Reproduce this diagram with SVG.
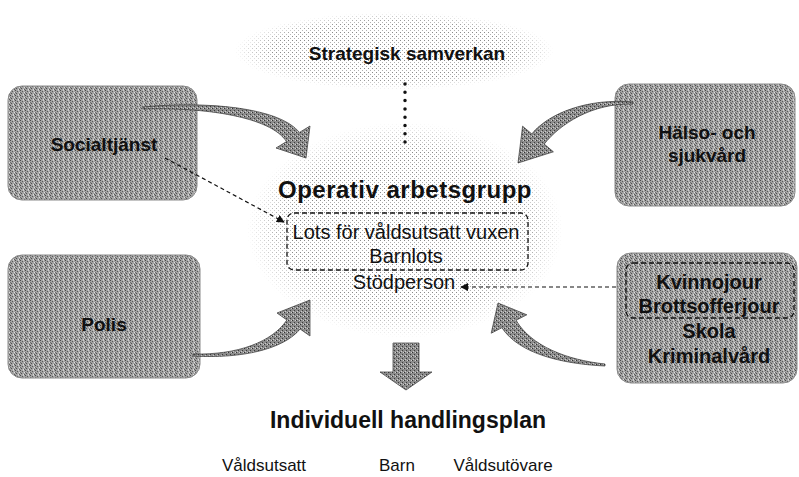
<svg xmlns="http://www.w3.org/2000/svg" width="799" height="477" viewBox="0 0 799 477">
<style>
  .bt{font-family:"Liberation Sans",Arial,sans-serif;font-weight:bold;fill:#111;text-anchor:middle}
  .rt{font-family:"Liberation Sans",Arial,sans-serif;fill:#111;text-anchor:middle}
  .box{fill:url(#grain);stroke:#8a8a8a;stroke-width:1}
  .arr{fill:url(#grainD);stroke:#333;stroke-width:0.7}
  .dash{fill:none;stroke:#111;stroke-width:1.3;stroke-dasharray:5 3}
  .dl{fill:none;stroke:#111;stroke-width:1.2;stroke-dasharray:4 3}
</style>
<defs>
  <pattern id="grain" width="5" height="5" patternUnits="userSpaceOnUse">
    <rect width="5" height="5" fill="#a3a3a3"/>
    <rect x="0" y="0" width="1" height="1" fill="#4a4a4a"/>
    <rect x="2" y="1" width="1" height="1" fill="#5a5a5a"/>
    <rect x="4" y="2" width="1" height="1" fill="#e2e2e2"/>
    <rect x="1" y="3" width="1" height="1" fill="#505050"/>
    <rect x="3" y="4" width="1" height="1" fill="#dcdcdc"/>
    <rect x="3" y="0" width="1" height="1" fill="#cfcfcf"/>
    <rect x="0" y="2" width="1" height="1" fill="#6a6a6a"/>
    <rect x="4" y="4" width="1" height="1" fill="#5c5c5c"/>
  </pattern>
  <pattern id="grainD" width="4" height="4" patternUnits="userSpaceOnUse">
    <rect width="4" height="4" fill="#8c8c8c"/>
    <rect x="0" y="0" width="1" height="1" fill="#333"/>
    <rect x="2" y="2" width="1" height="1" fill="#3a3a3a"/>
    <rect x="3" y="0" width="1" height="1" fill="#d0d0d0"/>
    <rect x="1" y="3" width="1" height="1" fill="#ccc"/>
  </pattern>
  <pattern id="dots" width="4" height="4" patternUnits="userSpaceOnUse">
    <rect x="0" y="0" width="1" height="1" fill="#8a8a8a"/>
    <rect x="2" y="2" width="1" height="1" fill="#b0b0b0"/>
  </pattern>
  <radialGradient id="fade">
    <stop offset="0" stop-color="#fff"/>
    <stop offset="0.75" stop-color="#fff"/>
    <stop offset="1" stop-color="#000"/>
  </radialGradient>
  <mask id="m1" maskContentUnits="objectBoundingBox"><rect width="1" height="1" fill="url(#fade)"/></mask>
  <marker id="ah" viewBox="0 0 10 10" refX="9" refY="5" markerWidth="8" markerHeight="8" orient="auto" markerUnits="userSpaceOnUse">
    <path d="M0,0 L10,5 L0,10 Z" fill="#111"/>
  </marker>
</defs>
<rect width="799" height="477" fill="#fff"/>

<g id="strategisk">
  <ellipse cx="394" cy="51" rx="160" ry="39" fill="url(#dots)" mask="url(#m1)"/>
  <text class="bt" x="407" y="60" font-size="19">Strategisk samverkan</text>
</g>

<g id="operativ">
  <ellipse cx="405" cy="230" rx="158" ry="108" fill="url(#dots)" mask="url(#m1)"/>
  <text class="bt" x="405" y="198" font-size="24" letter-spacing="0.5">Operativ arbetsgrupp</text>
  <rect class="dash" x="287" y="213" width="241" height="57" rx="7"/>
  <text class="rt" x="406" y="239" font-size="20">Lots för våldsutsatt vuxen</text>
  <text class="rt" x="406" y="263" font-size="20">Barnlots</text>
  <text class="rt" x="404" y="289" font-size="20">Stödperson</text>
</g>

<g id="socialtjanst">
  <rect class="box" x="8" y="86" width="189" height="114" rx="14"/>
  <text class="bt" x="104" y="151" font-size="19">Socialtjänst</text>
</g>

<g id="halso">
  <rect class="box" x="615" y="84" width="180" height="122" rx="14"/>
  <text class="bt" x="707" y="139" font-size="19">Hälso- och</text>
  <text class="bt" x="707" y="162" font-size="19">sjukvård</text>
</g>

<g id="polis">
  <rect class="box" x="8" y="255" width="192" height="123" rx="14"/>
  <text class="bt" x="104" y="331" font-size="19">Polis</text>
</g>

<g id="kvinnojour">
  <rect class="box" x="617" y="253" width="180" height="130" rx="14"/>
  <rect class="dash" x="626" y="263" width="168" height="55" rx="7"/>
  <text class="bt" x="709" y="289" font-size="20">Kvinnojour</text>
  <text class="bt" x="709" y="313" font-size="20">Brottsofferjour</text>
  <text class="bt" x="709" y="338" font-size="20">Skola</text>
  <text class="bt" x="709" y="363" font-size="20">Kriminalvård</text>
</g>

<g id="plan">
  <text class="bt" x="408" y="428" font-size="23">Individuell handlingsplan</text>
  <text class="rt" x="264" y="471" font-size="17">Våldsutsatt</text>
  <text class="rt" x="397" y="471" font-size="17">Barn</text>
  <text class="rt" x="503" y="471" font-size="17">Våldsutövare</text>
</g>

<g id="connectors">
  <path class="arr" d="M143,107 C205,101 279,107 299.5,132.4 L310,126 L306,158 L276,148 L286.5,141.6 C271,117 205,107 143,109 Z"/>
  <path class="arr" d="M633,102 C588,98 549,113 531.8,133.9 L522.6,126.2 L518,163 L553.4,151.8 L544.2,144.1 C560,124 592,103 633,104 Z"/>
  <path class="arr" d="M193,354 C238,355 272,342 286.9,320 L277,313 L310,300 L310,336 L300.1,329 C284,349 242,359 193,356 Z"/>
  <path class="arr" d="M605,364 C567,360 531,346 516.1,320.3 L526.8,314.8 L498,303 L491.2,333.2 L501.9,327.7 C519,354 563,364 605,366 Z"/>
  <path class="arr" d="M393,343 H419 V372 H432 L406,390 L380,372 H393 Z"/>
  <line x1="405" y1="84" x2="405" y2="143" stroke="#111" stroke-width="3.5" stroke-linecap="round" stroke-dasharray="0 8.3"/>
  <line class="dl" x1="165" y1="158" x2="284" y2="222" marker-end="url(#ah)"/>
  <line class="dl" x1="616" y1="287" x2="461" y2="287" marker-end="url(#ah)"/>
</g>
</svg>
